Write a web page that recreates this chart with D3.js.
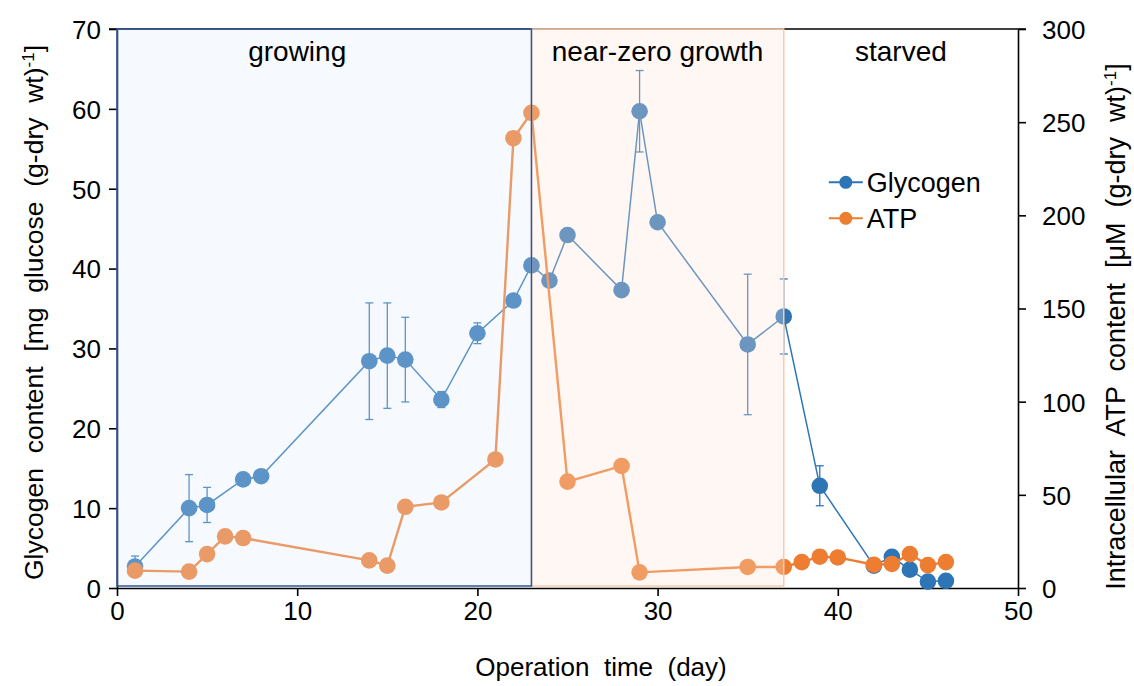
<!DOCTYPE html>
<html>
<head>
<meta charset="utf-8">
<script src="https://cdn.jsdelivr.net/npm/d3@7"></script>
<style>
    body { margin: 0; background: #fff; }
    text { font-family: "Liberation Sans", Arial, sans-serif; fill: #000; white-space: pre; }
</style>
</head>
<body>
<div id="chart" style="width:1134px;height:686px;"></div>
<script>
// glycogen (left axis, mg glucose / g-dry wt)
const glyDays = [1, 4, 5, 7, 8, 14, 15, 16, 18, 20, 22, 23, 24, 25, 28, 29, 30, 35, 37, 39, 42, 43, 44, 45, 46];
const glyValues = [2.7, 10.0, 10.4, 13.6, 14.0, 28.4, 29.1, 28.6, 23.6, 31.9, 36.0, 40.4, 38.5, 44.2, 37.3, 59.7, 45.8, 30.5, 34.0, 12.8, 2.8, 3.9, 2.3, 0.8, 0.9];
const glyErr = [1.3, 4.2, 2.2, 0, 0, 7.3, 6.6, 5.3, 1.0, 1.3, 0, 0, 0, 0, 0, 5.1, 0, 8.8, 4.7, 2.5, 0, 0, 0, 0, 0];

// ATP (right axis, uM / g-dry wt)
const atpDays = [1, 4, 5, 6, 7, 14, 15, 16, 18, 21, 22, 23, 25, 28, 29, 35, 37, 38, 39, 40, 42, 43, 44, 45, 46];
const atpValues = [9.3, 8.8, 18.2, 27.7, 26.8, 14.8, 12.0, 43.6, 45.9, 69.0, 241.4, 255.0, 57.1, 65.5, 8.4, 11.3, 11.3, 13.9, 16.8, 16.4, 12.5, 12.9, 18.2, 12.3, 13.9];

const xTicks = [0, 10, 20, 30, 40, 50];
const yLeftTicks = [0, 10, 20, 30, 40, 50, 60, 70];
const yRightTicks = [0, 50, 100, 150, 200, 250, 300];

// phases and where their label sits (day)
const phases = [
    {name: 'growing', start: 0, end: 23, labelAt: 10},
    {name: 'near-zero growth', start: 23, end: 37, labelAt: 30},
    {name: 'starved', start: 37, end: 50, labelAt: 43.5}
];

const width = 1134, height = 686;
const padding = {left: 117, top: 29, right: 116, bottom: 98};
const w = width - padding.left - padding.right;
const h = height - padding.top - padding.bottom;

const blue = '#2e75b6', orange = '#ed7d31';

const svg = d3.select('#chart').append('svg')
    .attr('width', width)
    .attr('height', height);
const g = svg.append('g')
    .attr('transform', `translate(${padding.left}, ${padding.top})`);

const x = d3.scaleLinear().domain([0, 50]).range([0, w]);
const yL = d3.scaleLinear().domain([0, 70]).range([h, 0]);
const yR = d3.scaleLinear().domain([0, 300]).range([h, 0]);

// axes
const styleAxis = sel => {
    sel.select('.domain').attr('stroke', '#000').attr('stroke-width', 1.6);
    sel.selectAll('.tick line').attr('stroke', '#000').attr('stroke-width', 1.6);
    sel.selectAll('.tick text').style('font-size', '26px').attr('fill', '#000');
};
g.append('g')
    .attr('transform', `translate(0, ${h})`)
    .call(d3.axisBottom(x).tickValues(xTicks).tickSizeInner(8).tickSizeOuter(0).tickPadding(6))
    .call(styleAxis);
g.append('g')
    .call(d3.axisLeft(yL).tickValues(yLeftTicks).tickSizeInner(8).tickSizeOuter(0).tickPadding(8))
    .call(styleAxis)
    .selectAll('.tick text').attr('dy', '0.36em');
g.append('g')
    .attr('transform', `translate(${w}, 0)`)
    .call(d3.axisRight(yR).tickValues(yRightTicks).tickSizeInner(8).tickSizeOuter(0).tickPadding(16))
    .call(styleAxis)
    .selectAll('.tick text').attr('dy', '0.36em');
// top border
g.append('line')
    .attr('x1', -8).attr('x2', w + 8)
    .attr('y1', yL(70)).attr('y2', yL(70))
    .attr('stroke', '#000').attr('stroke-width', 1.6);

const glyData = glyDays.map((d, i) => ({x: d, y: glyValues[i], e: glyErr[i]}));
const atpData = atpDays.map((d, i) => ({x: d, y: atpValues[i]}));

// glycogen error bars
const errG = g.append('g').attr('stroke', blue).attr('stroke-width', 1.3);
glyData.filter(d => d.e > 0).forEach(d => {
    const cx = x(d.x), top = yL(d.y + d.e), bot = yL(Math.max(0, d.y - d.e));
    errG.append('line').attr('x1', cx).attr('x2', cx).attr('y1', top).attr('y2', bot);
    errG.append('line').attr('x1', cx - 4).attr('x2', cx + 4).attr('y1', top).attr('y2', top);
    errG.append('line').attr('x1', cx - 4).attr('x2', cx + 4).attr('y1', bot).attr('y2', bot);
});

// glycogen series
g.append('path')
    .datum(glyData)
    .attr('fill', 'none')
    .attr('stroke', blue)
    .attr('stroke-width', 1.5)
    .attr('d', d3.line().x(d => x(d.x)).y(d => yL(d.y)));
g.append('g').selectAll('circle')
    .data(glyData).join('circle')
    .attr('cx', d => x(d.x)).attr('cy', d => yL(d.y))
    .attr('r', 8.3).attr('fill', blue);

// ATP series
g.append('path')
    .datum(atpData)
    .attr('fill', 'none')
    .attr('stroke', orange)
    .attr('stroke-width', 2.4)
    .attr('d', d3.line().x(d => x(d.x)).y(d => yR(d.y)));
g.append('g').selectAll('circle')
    .data(atpData).join('circle')
    .attr('cx', d => x(d.x)).attr('cy', d => yR(d.y))
    .attr('r', 8.3).attr('fill', orange);

// phase boxes drawn over the data (semi-transparent)
g.append('rect')
    .attr('x', x(phases[1].start)).attr('y', yL(70))
    .attr('width', x(phases[1].end) - x(phases[1].start))
    .attr('height', yL(0) - yL(70) - 2)
    .attr('fill', '#fbe5d6').attr('fill-opacity', 0.3)
    .attr('stroke', '#f8cbad').attr('stroke-width', 1.5);
g.append('rect')
    .attr('x', x(phases[0].start)).attr('y', yL(70))
    .attr('width', x(phases[0].end) - x(phases[0].start))
    .attr('height', yL(0) - yL(70) - 2)
    .attr('fill', '#dce9f6').attr('fill-opacity', 0.27)
    .attr('stroke', '#2f5597').attr('stroke-width', 1.5);

// phase labels
g.selectAll('.phase')
    .data(phases).join('text')
    .attr('class', 'phase')
    .attr('x', d => x(d.labelAt))
    .attr('y', 32)
    .attr('text-anchor', 'middle')
    .style('font-size', '28px')
    .text(d => d.name);

// legend
const legend = g.append('g').attr('transform', `translate(${x(39.5)}, ${yL(50.8)})`);
[{name: 'Glycogen', c: blue}, {name: 'ATP', c: orange}].forEach((s, i) => {
    const row = legend.append('g').attr('transform', `translate(0, ${i * 36})`);
    row.append('line').attr('x1', 0).attr('x2', 34).attr('stroke', s.c).attr('stroke-width', 2);
    row.append('circle').attr('cx', 17).attr('r', 6.5).attr('fill', s.c);
    row.append('text').attr('x', 38).attr('dy', '0.36em').style('font-size', '27px').text(s.name);
});

// axis titles
svg.append('text')
    .attr('x', 601)
    .attr('y', 676)
    .attr('text-anchor', 'middle')
    .style('font-size', '26px')
    .text('Operation  time  (day)');

const leftTitle = svg.append('text')
    .attr('transform', `translate(43, ${padding.top + h / 2 + 4}) rotate(-90)`)
    .attr('text-anchor', 'middle')
    .style('font-size', '26.5px');
leftTitle.append('tspan').text('Glycogen  content  [mg  glucose  (g-dry  wt)');
leftTitle.append('tspan').attr('baseline-shift', 'super').style('font-size', '17px').text('-1');
leftTitle.append('tspan').text(']');

const rightTitle = svg.append('text')
    .attr('transform', `translate(1125, ${padding.top + h / 2 + 18}) rotate(-90)`)
    .attr('text-anchor', 'middle')
    .style('font-size', '27px');
rightTitle.append('tspan').text('Intracellular  ATP  content  [\u03bcM  (g-dry  wt)');
rightTitle.append('tspan').attr('baseline-shift', 'super').style('font-size', '17px').text('-1');
rightTitle.append('tspan').text(']');
</script>
</body>
</html>
